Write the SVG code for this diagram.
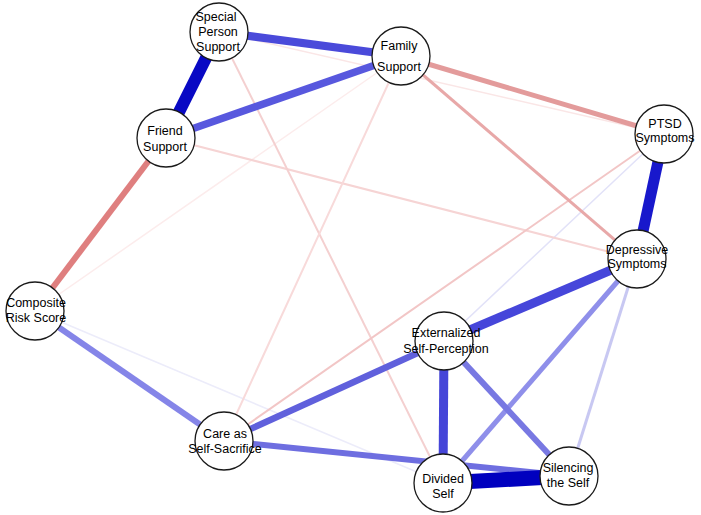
<svg xmlns="http://www.w3.org/2000/svg" width="701" height="515" viewBox="0 0 701 515">
<style>
.n circle{fill:#fff;stroke:#1a1a1a;stroke-width:1.3}
.n text{font-family:"Liberation Sans",Arial,sans-serif;font-size:12.5px;fill:#000;text-anchor:middle}
#edges line{stroke-linecap:butt;fill:none}
</style>
<rect width="701" height="515" fill="#fff"/>
<g id="edges">
<line x1="35" y1="311" x2="401" y2="56" stroke="#fcecec" stroke-width="1.5"/>
<line x1="35" y1="311" x2="443" y2="483" stroke="#ececfa" stroke-width="1.5"/>
<line x1="219" y1="32" x2="664" y2="134" stroke="#fae6e6" stroke-width="1.5"/>
<line x1="664" y1="134" x2="444" y2="341" stroke="#e2e2f8" stroke-width="1.5"/>
<line x1="166" y1="138" x2="637" y2="259" stroke="#f6d4d4" stroke-width="2"/>
<line x1="219" y1="32" x2="443" y2="483" stroke="#f4d0d0" stroke-width="2"/>
<line x1="401" y1="56" x2="224" y2="441" stroke="#f8dada" stroke-width="2"/>
<line x1="664" y1="134" x2="224" y2="441" stroke="#f2c6c6" stroke-width="2"/>
<line x1="637" y1="259" x2="569" y2="476" stroke="#c8c8f2" stroke-width="3"/>
<line x1="401" y1="56" x2="637" y2="259" stroke="#e8a8a8" stroke-width="3"/>
<line x1="401" y1="56" x2="664" y2="134" stroke="#e39b9b" stroke-width="5"/>
<line x1="637" y1="259" x2="443" y2="483" stroke="#8f8fea" stroke-width="5"/>
<line x1="35" y1="311" x2="224" y2="441" stroke="#8585e8" stroke-width="6"/>
<line x1="166" y1="138" x2="35" y2="311" stroke="#df7f7f" stroke-width="6"/>
<line x1="444" y1="341" x2="569" y2="476" stroke="#7878e2" stroke-width="6"/>
<line x1="224" y1="441" x2="569" y2="476" stroke="#6e6ee0" stroke-width="6"/>
<line x1="224" y1="441" x2="444" y2="341" stroke="#6060dc" stroke-width="6.5"/>
<line x1="166" y1="138" x2="401" y2="56" stroke="#5858de" stroke-width="7.5"/>
<line x1="219" y1="32" x2="401" y2="56" stroke="#4a4ada" stroke-width="8"/>
<line x1="444" y1="341" x2="443" y2="483" stroke="#4545d8" stroke-width="9"/>
<line x1="637" y1="259" x2="444" y2="341" stroke="#4646da" stroke-width="9"/>
<line x1="664" y1="134" x2="637" y2="259" stroke="#1818cc" stroke-width="11"/>
<line x1="219" y1="32" x2="166" y2="138" stroke="#0808c4" stroke-width="12"/>
<line x1="443" y1="483" x2="569" y2="476" stroke="#0000bf" stroke-width="15"/>
</g>
<g id="special-person-support" class="n"><circle cx="219" cy="32" r="29"/><text x="216" y="21">Special</text><text x="218" y="36">Person</text><text x="218" y="51">Support</text></g>
<g id="family-support" class="n"><circle cx="401" cy="56" r="29"/><text x="399" y="50">Family</text><text x="399" y="71">Support</text></g>
<g id="friend-support" class="n"><circle cx="166" cy="138" r="29"/><text x="165" y="135">Friend</text><text x="165" y="151">Support</text></g>
<g id="ptsd-symptoms" class="n"><circle cx="664" cy="134" r="29"/><text x="665" y="128">PTSD</text><text x="665" y="142">Symptoms</text></g>
<g id="depressive-symptoms" class="n"><circle cx="637" cy="259" r="29"/><text x="637" y="254">Depressive</text><text x="637" y="268">Symptoms</text></g>
<g id="composite-risk-score" class="n"><circle cx="35" cy="311" r="29"/><text x="36" y="307">Composite</text><text x="36" y="322">Risk Score</text></g>
<g id="externalized-self-perception" class="n"><circle cx="444" cy="341" r="29"/><text x="446" y="337">Externalized</text><text x="446" y="353">Self-Perception</text></g>
<g id="care-as-self-sacrifice" class="n"><circle cx="224" cy="441" r="29"/><text x="225" y="438">Care as</text><text x="225" y="453">Self-Sacrifice</text></g>
<g id="divided-self" class="n"><circle cx="443" cy="483" r="29"/><text x="443" y="483">Divided</text><text x="443" y="498">Self</text></g>
<g id="silencing-the-self" class="n"><circle cx="569" cy="476" r="29"/><text x="568" y="472">Silencing</text><text x="568" y="487">the Self</text></g>
</svg>
